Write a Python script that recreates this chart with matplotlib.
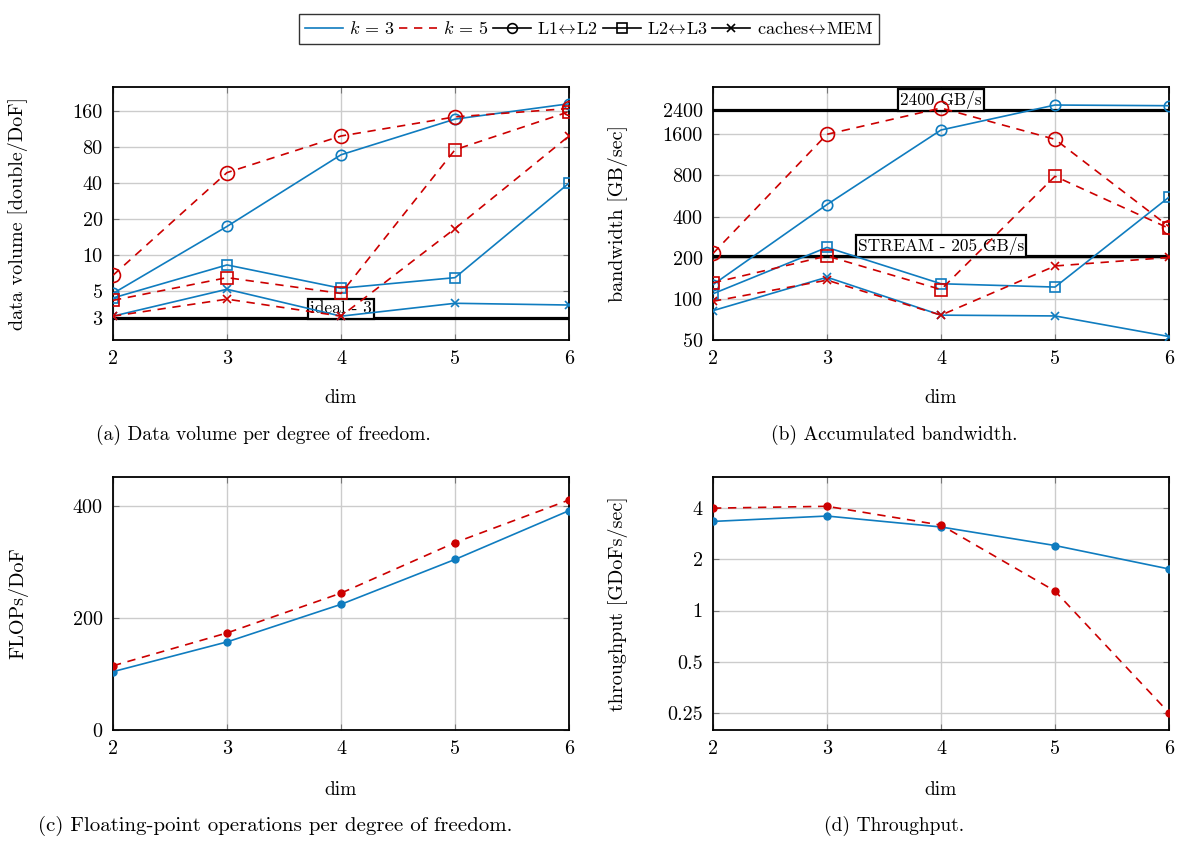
import matplotlib
matplotlib.use("Agg")
import matplotlib.pyplot as plt
from matplotlib.lines import Line2D
from matplotlib.ticker import FixedLocator, FixedFormatter, NullLocator

plt.rcParams['font.family'] = ['cmr10', 'DejaVu Serif']
plt.rcParams['mathtext.fontset'] = 'cm'
plt.rcParams['axes.formatter.use_mathtext'] = True
plt.rcParams['font.size'] = 14

# ---------------- data ----------------
dims = [2, 3, 4, 5, 6]

vol_k3_l1l2 = [4.8, 17.4, 69, 137, 184]
vol_k3_l2l3 = [4.4, 8.3, 5.3, 6.5, 40]
vol_k3_mem = [3.1, 5.2, 3.1, 3.97, 3.84]
vol_k5_l1l2 = [6.8, 49, 99, 143, 168]
vol_k5_l2l3 = [4.2, 6.5, 4.8, 76, 158]
vol_k5_mem = [3.1, 4.3, 3.1, 16.7, 99]

bw_k3_l1l2 = [127, 490, 1720, 2620, 2590]
bw_k3_l2l3 = [109, 238, 129, 122, 555]
bw_k3_mem = [82, 144, 76, 75, 53]
bw_k5_l1l2 = [215, 1600, 2490, 1470, 338]
bw_k5_l2l3 = [131, 206, 117, 789, 328]
bw_k5_mem = [96, 137, 76, 174, 201]

flops_k3 = [104, 157, 224, 304, 391]
flops_k5 = [114.5, 173, 244, 334, 410]

tp_k3 = [3.32, 3.57, 3.08, 2.40, 1.75]
tp_k5 = [3.97, 4.07, 3.16, 1.30, 0.252]

ideal_volume = 3
peak_bw = 2400
stream_bw = 205

vol_ticks = [3, 5, 10, 20, 40, 80, 160]
bw_ticks = [50, 100, 200, 400, 800, 1600, 2400]
flop_ticks = [0, 200, 400]
tp_ticks = [0.25, 0.5, 1, 2, 4]
tp_labels = ['0.25', '0.5', '1', '2', '4']

legend_labels = ['$k\\,=\\,3$', '$k\\,=\\,5$', r'L1$\!\leftrightarrow\!$L2', r'L2$\!\leftrightarrow\!$L3',
                 r'caches$\!\leftrightarrow\!$MEM']

captions = ['(a) Data volume per degree of freedom.', '(b) Accumulated bandwidth.',
            '(c) Floating-point operations per degree of freedom.', '(d) Throughput.']

# ---------------- style ----------------
BLUE = '#0f7cbf'
RED = '#cc0000'
LW = 1.2
DASH = (5, 4)
W, H = 1189, 842
FS = 14

fig = plt.figure(figsize=(W / 100, H / 100), dpi=100)


def box(l, r, t, b):
    return [l / W, 1 - b / H, (r - l) / W, (b - t) / H]


ax_a = fig.add_axes(box(113, 569, 87, 340))
ax_b = fig.add_axes(box(713, 1169, 87, 340))
ax_c = fig.add_axes(box(113, 569, 477, 730))
ax_d = fig.add_axes(box(713, 1169, 477, 730))


def style(ax, ticks, labels=None, log=False):
    if log:
        ax.set_yscale('log')
    ax.set_xlim(2, 6)
    ax.xaxis.set_major_locator(FixedLocator(dims))
    ax.xaxis.set_major_formatter(FixedFormatter([str(d) for d in dims]))
    ax.yaxis.set_major_locator(FixedLocator(ticks))
    ax.yaxis.set_major_formatter(FixedFormatter(labels if labels else [str(t) for t in ticks]))
    ax.yaxis.set_minor_locator(NullLocator())
    ax.xaxis.set_minor_locator(NullLocator())
    ax.grid(True, color='#cccccc', lw=1.0)
    ax.set_axisbelow(True)
    ax.tick_params(direction='in', top=True, right=True, length=4, width=0.8,
                   color='#777777', labelsize=FS + 0.5, pad=7.5)
    for s in ax.spines.values():
        s.set_linewidth(1.3)
        s.set_color('black')
    ax.set_xlabel('dim', fontsize=FS)


def ref_line(ax, y, text):
    ax.axhline(y, color='black', lw=2.3, zorder=3)
    ax.annotate(text, xy=(4, y), xytext=(0, 1), textcoords='offset points',
                ha='center', va='bottom', fontsize=12.5, zorder=4,
                bbox=dict(boxstyle='square,pad=0.12', fc='white', ec='black', lw=1.6))


def triple(ax, s1, s2, s3, color, dashed, big):
    kw = dict(color=color, lw=LW, zorder=5)
    if dashed:
        kw['dashes'] = DASH
    ms_c = 10 if big else 7.5
    ms_s = 8 if big else 7.5
    ax.plot(dims, s1, marker='o', ms=ms_c, mfc='none', mec=color, mew=1.2, **kw)
    ax.plot(dims, s2, marker='s', ms=ms_s, mfc='none', mec=color, mew=1.2, **kw)
    ax.plot(dims, s3, marker='x', ms=6, mec=color, mew=1.2, **kw)


# (a)
style(ax_a, vol_ticks, log=True)
ax_a.set_ylim(1.96, 254)
ref_line(ax_a, ideal_volume, 'ideal - 3')
triple(ax_a, vol_k3_l1l2, vol_k3_l2l3, vol_k3_mem, BLUE, False, False)
triple(ax_a, vol_k5_l1l2, vol_k5_l2l3, vol_k5_mem, RED, True, True)
ax_a.set_ylabel('data volume [double/DoF]', fontsize=FS + 0.5)

# (b)
style(ax_b, bw_ticks, log=True)
ax_b.set_ylim(50, 3550)
ref_line(ax_b, peak_bw, '2400 GB/s')
ref_line(ax_b, stream_bw, 'STREAM - 205 GB/s')
triple(ax_b, bw_k3_l1l2, bw_k3_l2l3, bw_k3_mem, BLUE, False, False)
triple(ax_b, bw_k5_l1l2, bw_k5_l2l3, bw_k5_mem, RED, True, True)
ax_b.set_ylabel('bandwidth [GB/sec]', fontsize=FS + 0.5)

# (c)
style(ax_c, flop_ticks)
ax_c.set_ylim(0, 451)
ax_c.plot(dims, flops_k3, color=BLUE, lw=LW, marker='o', ms=5, zorder=5)
ax_c.plot(dims, flops_k5, color=RED, lw=LW, dashes=DASH, marker='o', ms=5, zorder=5)
ax_c.set_ylabel('FLOPs/DoF', fontsize=FS + 0.5)

# (d)
style(ax_d, tp_ticks, tp_labels, log=True)
ax_d.set_ylim(0.2, 6.04)
ax_d.plot(dims, tp_k3, color=BLUE, lw=LW, marker='o', ms=5, zorder=5)
ax_d.plot(dims, tp_k5, color=RED, lw=LW, dashes=DASH, marker='o', ms=5, zorder=5)
ax_d.set_ylabel('throughput [GDoFs/sec]', fontsize=FS + 0.5)

for ax in (ax_a, ax_b):
    ax.yaxis.set_label_coords(-0.186, 0.5)
    ax.xaxis.set_label_coords(0.5, -0.194)
for ax in (ax_c, ax_d):
    ax.yaxis.set_label_coords(-0.186, 0.5)
    ax.xaxis.set_label_coords(0.5, -0.2)

# captions
cap_pos = [(263, 435), (894, 435), (275, 826), (894, 826)]
cap_fs = [FS, FS, FS + 1, FS]
for (cx, cy), txt, fs in zip(cap_pos, captions, cap_fs):
    fig.text(cx / W, 1 - cy / H, txt, ha='center', va='center', fontsize=fs)

# legend
handles = [
    Line2D([], [], color=BLUE, lw=LW),
    Line2D([], [], color=RED, lw=LW, dashes=DASH),
    Line2D([], [], color='black', lw=LW, marker='o', ms=7, mfc='none', mew=1.2),
    Line2D([], [], color='black', lw=LW, marker='s', ms=7, mfc='none', mew=1.2),
    Line2D([], [], color='black', lw=LW, marker='x', ms=6, mew=1.2),
]
leg = fig.legend(handles, legend_labels, loc='upper center', bbox_to_anchor=(589 / W, 1 - 5 / H),
                 ncol=5, fontsize=13, frameon=True, fancybox=False, handlelength=2.1,
                 handletextpad=0.35, columnspacing=0.25, borderpad=0.35)
leg.get_frame().set_edgecolor('black')
leg.get_frame().set_linewidth(1.0)

fig.savefig('out.png', dpi=100)
